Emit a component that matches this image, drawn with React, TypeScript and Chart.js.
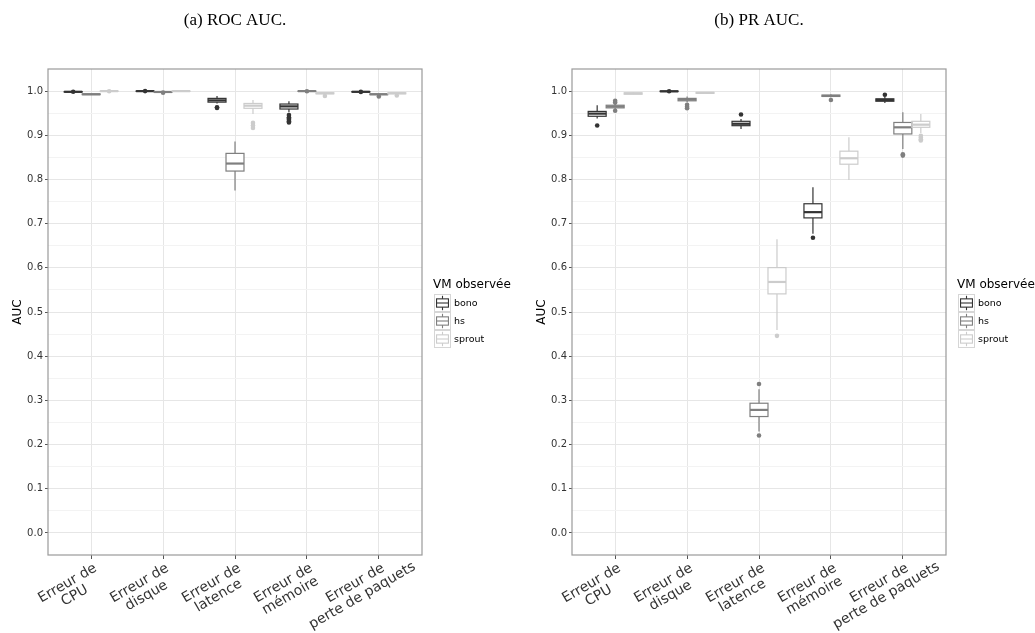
import React, { useEffect, useRef } from 'react';
import { Chart, registerables } from 'chart.js';

Chart.register(...registerables);

// ---------- data ----------
const categories: string[][] = [
  ['Erreur de', 'CPU'],
  ['Erreur de', 'disque'],
  ['Erreur de', 'latence'],
  ['Erreur de', 'mémoire'],
  ['Erreur de', 'perte de paquets'],
];
const seriesNames = ['bono', 'hs', 'sprout'];
const seriesColors = ['#333333', '#7f7f7f', '#cccccc'];
const majorTicks = [0.0, 0.1, 0.2, 0.3, 0.4, 0.5, 0.6, 0.7, 0.8, 0.9, 1.0];
const panelTitles = ['(a) ROC AUC.', '(b) PR AUC.'];
const legendTitle = 'VM observée';
const yAxisTitle = 'AUC';

// each row: [lower whisker, Q1, median, Q3, upper whisker]
const rocBono = [
  [0.9975, 0.9979, 0.9984, 0.9989, 0.9993],
  [0.9992, 0.9995, 0.9999, 1.0, 1.0],
  [0.972, 0.975, 0.979, 0.9835, 0.989],
  [0.952, 0.9594, 0.9654, 0.9707, 0.977],
  [0.9975, 0.9979, 0.9984, 0.9989, 0.9993],
];
const rocBonoOut = [[0.9985], [1.0], [0.962, 0.9635], [0.946, 0.9406, 0.938, 0.935, 0.932, 0.929], [0.9982]];
const rocHs = [
  [0.9915, 0.992, 0.9928, 0.9935, 0.994],
  [0.997, 0.9975, 0.998, 0.9985, 0.999],
  [0.775, 0.819, 0.836, 0.859, 0.886],
  [0.9993, 0.9996, 0.9999, 1.0, 1.0],
  [0.9915, 0.992, 0.9928, 0.9935, 0.994],
];
const rocHsOut = [[], [0.9965], [], [0.9997], [0.988]];
const rocSprout = [
  [0.9993, 0.9996, 0.9999, 1.0, 1.0],
  [0.9993, 0.9996, 0.9999, 1.0, 1.0],
  [0.948, 0.961, 0.967, 0.972, 0.98],
  [0.9935, 0.994, 0.995, 0.996, 0.9965],
  [0.9935, 0.994, 0.995, 0.996, 0.9965],
];
const rocSproutOut = [[0.9998], [], [0.928, 0.922, 0.9165], [0.989], [0.99]];

const prBono = [
  [0.938, 0.943, 0.949, 0.954, 0.968],
  [0.998, 0.999, 0.9995, 1.0, 1.0],
  [0.914, 0.9217, 0.926, 0.9316, 0.937],
  [0.677, 0.713, 0.726, 0.745, 0.7825],
  [0.973, 0.977, 0.98, 0.9825, 0.988],
];
const prBonoOut = [[0.922], [0.9995], [0.947], [0.668], [0.9917]];
const prHs = [
  [0.959, 0.962, 0.965, 0.968, 0.971],
  [0.975, 0.978, 0.981, 0.9835, 0.988],
  [0.2295, 0.2634, 0.2784, 0.2935, 0.325],
  [0.986, 0.988, 0.989, 0.991, 0.993],
  [0.869, 0.903, 0.918, 0.929, 0.952],
];
const prHsOut = [[0.978, 0.974, 0.9555], [0.969, 0.9646, 0.961], [0.337, 0.2205], [0.98], [0.857, 0.854]];
const prSprout = [
  [0.992, 0.993, 0.9947, 0.996, 0.997],
  [0.994, 0.995, 0.996, 0.997, 0.998],
  [0.459, 0.541, 0.568, 0.6005, 0.6644],
  [0.799, 0.8345, 0.848, 0.864, 0.8955],
  [0.905, 0.918, 0.924, 0.9316, 0.948],
];
const prSproutOut = [[], [], [0.446], [], [0.899, 0.895, 0.891, 0.888]];

// ---------- styling ----------
const SANS = "'DejaVu Sans', sans-serif";
const X_FONT_SIZE = 14;
const PLOT_LEFT = 48;
const PLOT_RIGHT = 422;
const PLOT_BOTTOM = 555;
const CANVAS_H = 633;

const allYTicks: number[] = [];
majorTicks.forEach((v, i) => {
  allYTicks.push(v);
  if (i < majorTicks.length - 1) allYTicks.push((v + majorTicks[i + 1]) / 2);
});

function line(ctx: CanvasRenderingContext2D, x1: number, y1: number, x2: number, y2: number) {
  ctx.beginPath();
  ctx.moveTo(x1, y1);
  ctx.lineTo(x2, y2);
  ctx.stroke();
}

const boxplotPlugin = {
  id: 'boxplotDraw',
  afterDatasetsDraw(chart: any) {
    const ctx: CanvasRenderingContext2D = chart.ctx;
    const yScale = chart.scales.y;
    const area = chart.chartArea;
    const py = (v: number) => yScale.getPixelForValue(v);
    ctx.save();
    ctx.beginPath();
    ctx.rect(area.left, area.top, area.right - area.left, area.bottom - area.top);
    ctx.clip();
    chart.data.datasets.forEach((ds: any, di: number) => {
      const meta = chart.getDatasetMeta(di);
      const color = ds.boxColor;
      meta.data.forEach((el: any, i: number) => {
        const { x, width } = el.getProps(['x', 'width'], true);
        const [mn, q1, md, q3, mx] = ds.stats[i];
        ctx.strokeStyle = color;
        ctx.lineWidth = 1.2;
        line(ctx, x, py(q3), x, py(mx));
        line(ctx, x, py(q1), x, py(mn));
        ctx.strokeRect(x - width / 2, py(q3), width, py(q1) - py(q3));
        ctx.lineWidth = 2.2;
        line(ctx, x - width / 2, py(md), x + width / 2, py(md));
        ctx.fillStyle = color;
        (ds.outliers[i] || []).forEach((v: number) => {
          ctx.beginPath();
          ctx.arc(x, py(v), 2.3, 0, Math.PI * 2);
          ctx.fill();
        });
      });
    });
    ctx.restore();
    // panel border
    ctx.save();
    ctx.strokeStyle = '#9a9a9a';
    ctx.lineWidth = 1.2;
    ctx.strokeRect(area.left, area.top, area.right - area.left, area.bottom - area.top);
    ctx.restore();
  },
};

const xLabelPlugin = {
  id: 'xCategoryLabels',
  afterDraw(chart: any) {
    const ctx: CanvasRenderingContext2D = chart.ctx;
    const xs = chart.scales.x;
    const area = chart.chartArea;
    const lh = X_FONT_SIZE * 1.02;
    ctx.save();
    ctx.font = `${X_FONT_SIZE}px ${SANS}`;
    ctx.fillStyle = '#333';
    ctx.textAlign = 'center';
    ctx.textBaseline = 'middle';
    categories.forEach((lines, i) => {
      const px = xs.getPixelForValue(i);
      const w1 = ctx.measureText(lines[0]).width;
      ctx.save();
      ctx.translate(px + 1, area.bottom + 6);
      ctx.rotate(-Math.PI / 6);
      lines.forEach((l, j) => ctx.fillText(l, -w1 / 2, lh / 2 + j * lh));
      ctx.restore();
    });
    ctx.restore();
  },
};

const legendPlugin = {
  id: 'boxLegend',
  afterDraw(chart: any) {
    const ctx: CanvasRenderingContext2D = chart.ctx;
    const area = chart.chartArea;
    const x0 = area.right + 11;
    const keyW = 17;
    const keyH = 18;
    const titleH = 18;
    const total = titleH + keyH * seriesNames.length;
    const top = (area.top + area.bottom) / 2 - total / 2;
    ctx.save();
    ctx.textAlign = 'left';
    ctx.textBaseline = 'middle';
    ctx.fillStyle = '#000';
    ctx.font = `12px ${SANS}`;
    ctx.fillText(legendTitle, x0, top + titleH / 2);
    seriesNames.forEach((name, k) => {
      const kx = x0 + 1;
      const ky = top + titleH + k * keyH;
      ctx.strokeStyle = '#d6d6d6';
      ctx.lineWidth = 1;
      ctx.strokeRect(kx + 0.5, ky + 0.5, keyW - 1, keyH - 1);
      const c = seriesColors[k];
      ctx.strokeStyle = c;
      ctx.lineWidth = 1.1;
      const cx = kx + keyW / 2;
      const bx1 = kx + keyW * 0.15;
      const bx2 = kx + keyW * 0.85;
      const by1 = ky + keyH * 0.27;
      const by2 = ky + keyH * 0.73;
      line(ctx, cx, ky + keyH * 0.1, cx, by1);
      line(ctx, cx, by2, cx, ky + keyH * 0.9);
      ctx.strokeRect(bx1, by1, bx2 - bx1, by2 - by1);
      line(ctx, bx1, ky + keyH / 2, bx2, ky + keyH / 2);
      ctx.fillStyle = '#000';
      ctx.font = `9.5px ${SANS}`;
      ctx.fillText(name, kx + keyW + 3, ky + keyH / 2 + 0.5);
    });
    ctx.restore();
  },
};

function buildConfig(title: string, series: number[][][], outliers: number[][][], canvasW: number): any {
  return {
    type: 'bar',
    data: {
      datasets: series.map((stats, k) => ({
        label: seriesNames[k],
        data: stats.map((s, i) => ({ x: i, y: [s[1], s[3]] })),
        backgroundColor: '#ffffff',
        borderWidth: 0,
        boxColor: seriesColors[k],
        stats,
        outliers: outliers[k],
      })),
    },
    options: {
      responsive: false,
      animation: false,
      devicePixelRatio: 1,
      layout: { padding: { left: 0, right: canvasW - PLOT_RIGHT, top: 0, bottom: 0 } },
      datasets: { bar: { barPercentage: 1, categoryPercentage: 0.75 } },
      plugins: {
        legend: { display: false },
        tooltip: { enabled: false },
        title: {
          display: true,
          text: title,
          fullSize: false,
          color: '#000',
          font: { family: "'Liberation Serif', serif", size: 17, weight: 'normal', lineHeight: 1.2 },
          padding: { top: 10, bottom: 38.6 },
        },
      },
      scales: {
        x: {
          type: 'linear',
          min: -0.6,
          max: 4.6,
          offset: false,
          afterBuildTicks: (s: any) => {
            s.ticks = categories.map((_, i) => ({ value: i }));
          },
          afterFit: (s: any) => {
            s.height = CANVAS_H - PLOT_BOTTOM;
          },
          ticks: { display: false, autoSkip: false },
          grid: { color: '#e6e6e6', tickColor: '#555', tickLength: 4, offset: false, lineWidth: 1 },
          border: { display: false },
        },
        y: {
          type: 'linear',
          min: -0.05,
          max: 1.05,
          afterBuildTicks: (s: any) => {
            s.ticks = allYTicks.map((v) => ({ value: v }));
          },
          afterFit: (s: any) => {
            s.width = PLOT_LEFT;
          },
          ticks: {
            callback: (v: number, i: number) => (i % 2 === 0 ? Number(v).toFixed(1) : ''),
            autoSkip: false,
            color: '#333',
            padding: 2,
            font: { family: SANS, size: 10 },
          },
          grid: {
            color: (c: any) => (c.index % 2 === 0 ? '#e6e6e6' : '#f3f3f3'),
            tickColor: (c: any) => (c.index % 2 === 0 ? '#555' : 'rgba(0,0,0,0)'),
            tickLength: 3,
            lineWidth: 1,
          },
          border: { display: false },
          title: {
            display: true,
            text: yAxisTitle,
            color: '#000',
            font: { family: SANS, size: 12 },
            padding: { top: 11, bottom: 0 },
          },
        },
      },
    },
    plugins: [boxplotPlugin, xLabelPlugin, legendPlugin],
  };
}

function Panel(props: { left: number; width: number; config: any }) {
  const ref = useRef<HTMLCanvasElement>(null);
  useEffect(() => {
    if (!ref.current) return;
    const chart = new Chart(ref.current, props.config);
    return () => chart.destroy();
  }, []);
  return (
    <canvas
      ref={ref}
      width={props.width}
      height={CANVAS_H}
      style={{ position: 'absolute', left: props.left, top: 0, width: props.width, height: CANVAS_H }}
    />
  );
}

export default function App() {
  const leftW = 524;
  const rightW = 511;
  const rocConfig = buildConfig(panelTitles[0], [rocBono, rocHs, rocSprout], [rocBonoOut, rocHsOut, rocSproutOut], leftW);
  const prConfig = buildConfig(panelTitles[1], [prBono, prHs, prSprout], [prBonoOut, prHsOut, prSproutOut], rightW);
  return (
    <div style={{ position: 'fixed', left: 0, top: 0, width: 1035, height: 633, background: '#fff', overflow: 'hidden' }}>
      <Panel left={0} width={leftW} config={rocConfig} />
      <Panel left={524} width={rightW} config={prConfig} />
    </div>
  );
}
